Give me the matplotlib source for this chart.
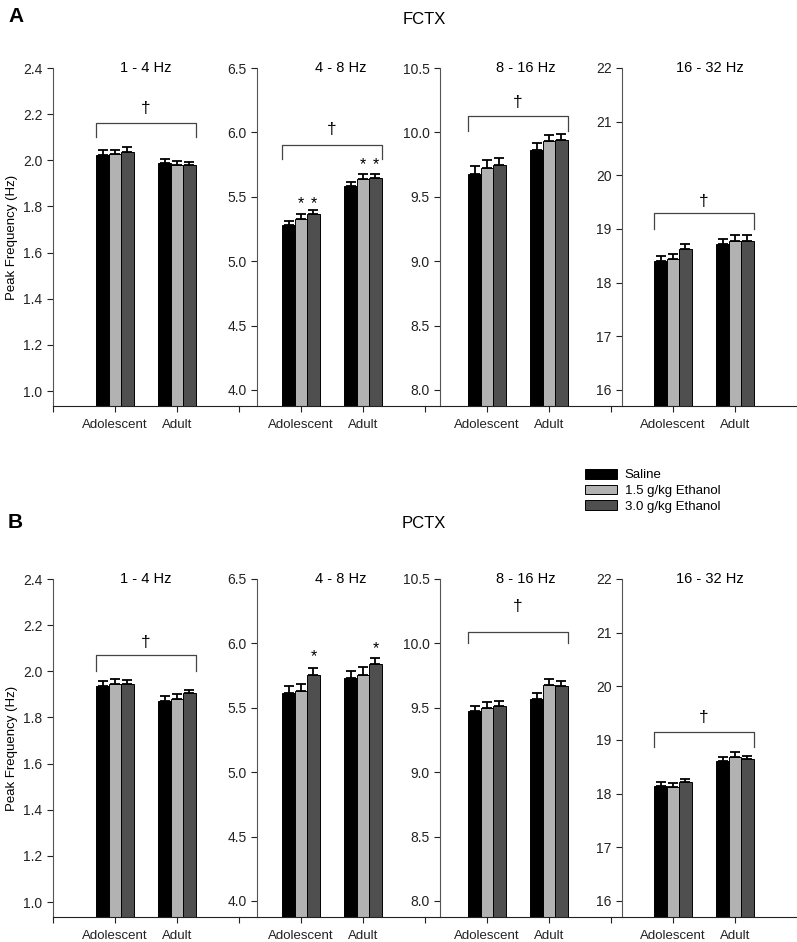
import matplotlib
matplotlib.use('Agg')
import matplotlib.pyplot as plt
from matplotlib.patches import Patch
import numpy as np

plt.rcParams['font.family'] = ['Liberation Sans', 'DejaVu Sans']

groups = ['Adolescent', 'Adult']
treatments = ['Saline', '1.5 g/kg Ethanol', '3.0 g/kg Ethanol']
bands = ['1 - 4 Hz', '4 - 8 Hz', '8 - 16 Hz', '16 - 32 Hz']
regions = ['FCTX', 'PCTX']
letters = ['A', 'B']

# mean peak frequency [group][treatment]
fctx_1_4 = [[2.025, 2.027, 2.036], [1.987, 1.979, 1.978]]
fctx_4_8 = [[5.277, 5.324, 5.365], [5.585, 5.636, 5.646]]
fctx_8_16 = [[9.675, 9.72, 9.75], [9.86, 9.93, 9.94]]
fctx_16_32 = [[18.41, 18.44, 18.62], [18.72, 18.77, 18.78]]

pctx_1_4 = [[1.936, 1.946, 1.943], [1.872, 1.882, 1.905]]
pctx_4_8 = [[5.611, 5.629, 5.756], [5.73, 5.753, 5.836]]
pctx_8_16 = [[9.475, 9.50, 9.51], [9.57, 9.68, 9.67]]
pctx_16_32 = [[18.135, 18.12, 18.22], [18.60, 18.69, 18.65]]

# SEM
fctx_1_4_err = [[0.018, 0.018, 0.020], [0.018, 0.016, 0.016]]
fctx_4_8_err = [[0.035, 0.040, 0.036], [0.030, 0.041, 0.034]]
fctx_8_16_err = [[0.065, 0.065, 0.050], [0.055, 0.050, 0.050]]
fctx_16_32_err = [[0.09, 0.10, 0.10], [0.10, 0.11, 0.10]]

pctx_1_4_err = [[0.020, 0.020, 0.018], [0.020, 0.018, 0.016]]
pctx_4_8_err = [[0.057, 0.058, 0.054], [0.055, 0.062, 0.054]]
pctx_8_16_err = [[0.040, 0.045, 0.040], [0.045, 0.045, 0.040]]
pctx_16_32_err = [[0.085, 0.08, 0.06], [0.09, 0.09, 0.06]]

means = [[fctx_1_4, fctx_4_8, fctx_8_16, fctx_16_32],
         [pctx_1_4, pctx_4_8, pctx_8_16, pctx_16_32]]
errs = [[fctx_1_4_err, fctx_4_8_err, fctx_8_16_err, fctx_16_32_err],
        [pctx_1_4_err, pctx_4_8_err, pctx_8_16_err, pctx_16_32_err]]

# age main effect (†) bracket: (line y, drop y, dagger y) or None
fctx_brackets = [(2.16, 2.10, 2.225), (5.90, 5.79, 6.02), (10.13, 10.01, 10.235), (19.29, 18.99, 19.52)]
pctx_brackets = [(2.07, 2.00, 2.125), None, (10.09, 10.0, 10.29), (19.14, 18.87, 19.42)]
brackets = [fctx_brackets, pctx_brackets]

# stars: (group, treatment, y)
fctx_stars = [[], [(0, 1, 5.45), (0, 2, 5.45), (1, 1, 5.75), (1, 2, 5.75)], [], []]
pctx_stars = [[], [(0, 2, 5.90), (1, 2, 5.96)], [], []]
stars = [fctx_stars, pctx_stars]

ylims = [(0.935, 2.4), (3.875, 6.5), (7.875, 10.5), (15.7, 22)]
yticks = [np.arange(1.0, 2.41, 0.2), np.arange(4.0, 6.51, 0.5), np.arange(8.0, 10.51, 0.5), np.arange(16, 23, 1)]
yfmt = ['%.1f', '%.1f', '%.1f', '%d']
spine_x = [0.0, 0.29, 0.24, 0.18]

colors = ['#000000', '#b2b2b2', '#4f4f4f']

W, H = 797, 942
fig = plt.figure(figsize=(W / 100, H / 100), dpi=100)

row_top = [68, 579]
row_bot = [406, 917]

for r in range(2):
    for i in range(4):
        left = 53 + 186 * i
        ax = fig.add_axes([left / W, 1 - row_bot[r] / H, 186 / W, (row_bot[r] - row_top[r]) / H])
        m = np.array(means[r][i])
        e = np.array(errs[r][i])
        x = np.arange(1, len(groups) + 1)
        for k in range(len(treatments)):
            xs = x + (k - 1) * 0.2
            ax.bar(xs, m[:, k], width=0.2, color=colors[k], edgecolor='black', linewidth=0.7, zorder=2)
            ax.errorbar(xs, m[:, k], yerr=[np.zeros(len(groups)), e[:, k]], fmt='none',
                        ecolor='black', elinewidth=1.3, capsize=3.3, capthick=1.3, zorder=3)
        ax.set_xlim(0, 3)
        ax.set_ylim(ylims[i])
        ax.set_yticks(yticks[i])
        ax.set_yticklabels([yfmt[i] % v for v in yticks[i]], fontsize=9.5)
        ax.set_xticks([0, 1, 2])
        ax.set_xticklabels([''] + groups, fontsize=9.5)
        ax.tick_params(axis='both', direction='out', length=4, width=0.8, colors='#222222')
        ax.tick_params(axis='x', pad=5.5)
        ax.spines['top'].set_visible(False)
        ax.spines['right'].set_visible(False)
        ax.spines['left'].set_position(('data', spine_x[i]))
        ax.spines['left'].set_color('#555555')
        ax.spines['bottom'].set_color('#222222')
        ax.patch.set_alpha(0)

        ax.text((spine_x[i] + 3) / 2, ylims[i][1], bands[i], ha='center', va='center', fontsize=10.5)

        b = brackets[r][i]
        if b is not None:
            ax.plot([0.7, 0.7, 2.3, 2.3], [b[1], b[0], b[0], b[1]], color='#444444', lw=0.9, zorder=3)
            ax.text(1.5, b[2], '\u2020', ha='center', va='center', fontsize=12.5)
        for g, k, y in stars[r][i]:
            ax.text(g + 1 + (k - 1) * 0.2, y, '*', ha='center', va='center', fontsize=11.5)

    fig.text(424 / W, 1 - (20 + 503 * r) / H, regions[r], ha='center', va='center', fontsize=12)
    fig.text(8 / W, 1 - (16 + 507 * r) / H, letters[r], ha='left', va='center', fontsize=15, fontweight='bold')
    fig.text(12 / W, 1 - (row_top[r] + row_bot[r]) / 2 / H, 'Peak Frequency (Hz)', rotation=90,
             ha='center', va='center', fontsize=9.5)

handles = [Patch(facecolor=c, edgecolor='black', linewidth=0.7) for c in colors]
fig.legend(handles, treatments, loc='upper left', bbox_to_anchor=(585 / W, 1 - 469 / H), frameon=False,
           fontsize=9.5, handlelength=2.4, handleheight=0.75, labelspacing=0.25, handletextpad=0.6,
           borderpad=0, borderaxespad=0)

fig.savefig('out.png', dpi=100)
